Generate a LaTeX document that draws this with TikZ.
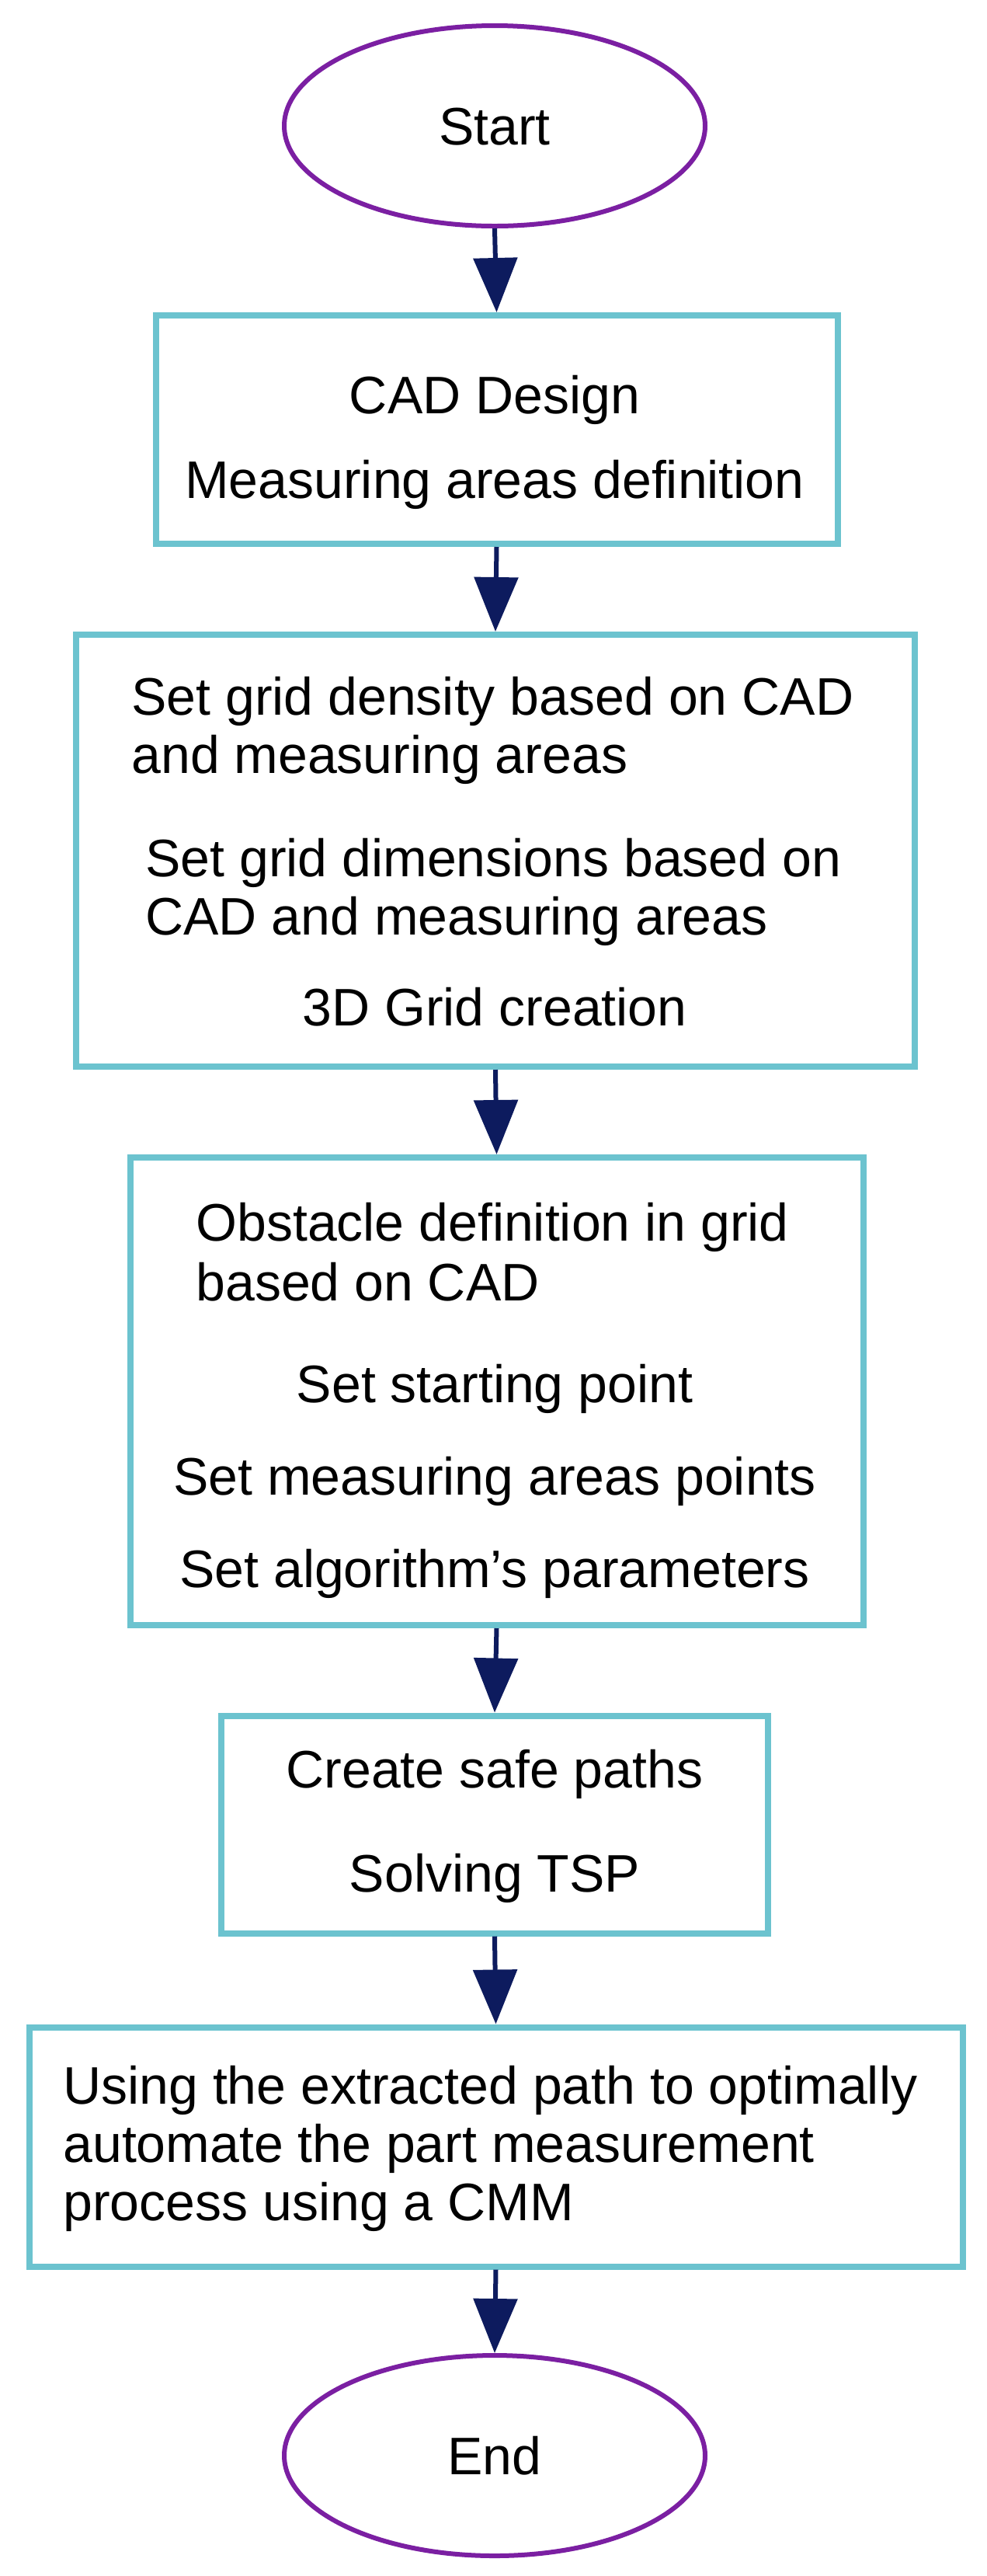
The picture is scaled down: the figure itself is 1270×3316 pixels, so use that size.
\documentclass[tikz,border=0pt]{standalone}
\usepackage{fontspec}
\setmainfont{Liberation Sans}
\usetikzlibrary{shapes.geometric,arrows.meta}
\definecolor{boxc}{HTML}{6CC3CF}
\definecolor{purp}{HTML}{7B1FA2}
\definecolor{navy}{HTML}{0D1B5E}
\begin{document}
\begin{tikzpicture}[x=0.5pt,y=-0.5pt,
  box/.style={draw=boxc,line width=4pt,rectangle,inner sep=0pt},
  term/.style={draw=purp,line width=3pt,ellipse,inner sep=0pt,minimum width=271pt,minimum height=129pt},
  txt/.style={font=\fontsize{34}{37.5}\selectfont,inner sep=0pt,anchor=base},
  ltxt/.style={txt,anchor=base west},
  arr/.style={draw=navy,line width=3pt,-{Triangle[length=35pt,width=28pt]}}]
\useasboundingbox[fill=white] (0,0) rectangle (1270,3316);
\node[term] (start) at (637,162) {};
\node[txt] (ts) at (637,186) {Start};
\node[box,minimum width=439pt,minimum height=147pt] (b1) at (639.5,553) {};
\node[txt] (t11) at (637,532) {CAD Design};
\node[txt] (t12) at (637,641) {Measuring areas definition};
\node[box,minimum width=540pt,minimum height=278pt] (b2) at (638,1095) {};
\node[ltxt] (t21) at (169,920) {Set grid density based on CAD};
\node[ltxt] (t22) at (169,995) {and measuring areas};
\node[ltxt] (t23) at (187,1128) {Set grid dimensions based on};
\node[ltxt] (t24) at (187,1203) {CAD and measuring areas};
\node[txt] (t25) at (637,1320) {3D Grid creation};
\node[box,minimum width=472pt,minimum height=301pt] (b3) at (639.5,1791) {};
\node[ltxt] (t31) at (252,1597) {Obstacle definition in grid};
\node[ltxt] (t32) at (252,1674) {based on CAD};
\node[txt] (t33) at (637,1805) {Set starting point};
\node[txt] (t34) at (637,1924) {Set measuring areas points};
\node[txt] (t35) at (637,2043) {Set algorithm’s parameters};
\node[box,minimum width=352pt,minimum height=140pt] (b4) at (637,2348.5) {};
\node[txt] (t41) at (637,2301) {Create safe paths};
\node[txt] (t42) at (637,2435) {Solving TSP};
\node[box,minimum width=601pt,minimum height=154pt] (b5) at (638.5,2763.5) {};
\node[ltxt] (t51) at (81,2708) {Using the extracted path to optimally};
\node[ltxt] (t52) at (81,2783) {automate the part measurement};
\node[ltxt] (t53) at (81,2858) {process using a CMM};
\node[term] (end) at (637,3161) {};
\node[txt] (te) at (637,3185) {End};
\draw[arr] (start.south) -- (b1.north);
\draw[arr] (b1.south) -- (b2.north);
\draw[arr] (b2.south) -- (b3.north);
\draw[arr] (b3.south) -- (b4.north);
\draw[arr] (b4.south) -- (b5.north);
\draw[arr] (b5.south) -- (end.north);
\end{tikzpicture}
\end{document}
